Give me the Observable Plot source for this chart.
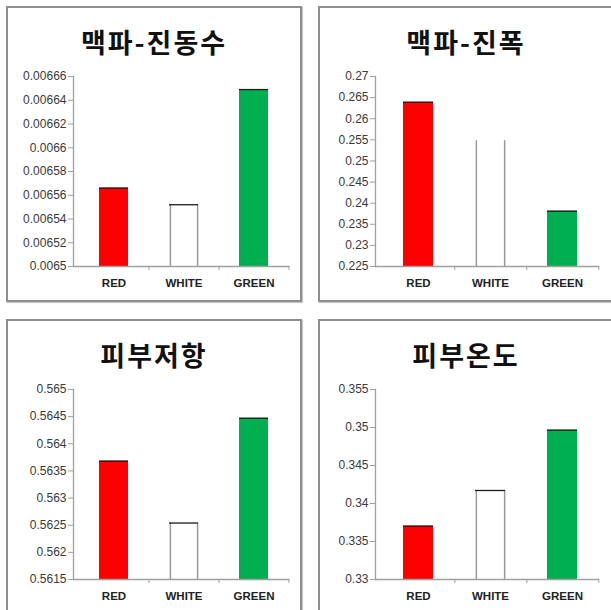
<!DOCTYPE html>
<html>
<head>
<meta charset="utf-8">
<script src="https://cdn.jsdelivr.net/npm/d3@7"></script>
<script src="https://cdn.jsdelivr.net/npm/@observablehq/plot@0.6"></script>
<style>
  html, body { margin: 0; padding: 0; background: #fff; }
  #page { position: relative; width: 611px; height: 610px; overflow: hidden; background: #fff; }
  .panel { position: absolute; width: 296px; height: 296px; box-sizing: border-box;
           border: 2px solid #8f8f8f; box-shadow: 1px 1px 1px #c8c8c8; background: #fff; }
  .title { position: absolute; left: 0; width: 292px; top: 19px; line-height: 30px; text-align: center;
           font-family: "Noto Sans CJK KR", sans-serif; font-weight: 700; font-size: 27px; color: #111; letter-spacing: 2px; }
</style>
</head>
<body>
<div id="page"></div>
<script>
// ---- data ----
const categories = ["RED", "WHITE", "GREEN"];
const barColors = ["#ff0000", "#ffffff", "#00b050"];
const titles = ["맥파-진동수", "맥파-진폭", "피부저항", "피부온도"];

const pulseFrequency = [0.006566, 0.006552, 0.006649];
const pulseAmplitude = [0.2639, 0.2548, 0.2381];
const skinResistance = [0.56368, 0.56254, 0.56447];
const skinTemperature = [0.33702, 0.34171, 0.34965];

const ticksFrequency = [0.0065, 0.00652, 0.00654, 0.00656, 0.00658, 0.0066, 0.00662, 0.00664, 0.00666];
const ticksAmplitude = [0.225, 0.23, 0.235, 0.24, 0.245, 0.25, 0.255, 0.26, 0.265, 0.27];
const ticksResistance = [0.5615, 0.562, 0.5625, 0.563, 0.5635, 0.564, 0.5645, 0.565];
const ticksTemperature = [0.33, 0.335, 0.34, 0.345, 0.35, 0.355];

// ---- layout ----
const panels = [
  {title: titles[0], values: pulseFrequency, ticks: ticksFrequency, left: 6, top: 6, ml: 65, mr: 12, whiteTop: true},
  {title: titles[1], values: pulseAmplitude, ticks: ticksAmplitude, left: 318, top: 6, ml: 55, mr: 14, whiteTop: false},
  {title: titles[2], values: skinResistance, ticks: ticksResistance, left: 6, top: 319, ml: 65, mr: 12, whiteTop: true},
  {title: titles[3], values: skinTemperature, ticks: ticksTemperature, left: 318, top: 319, ml: 55, mr: 14, whiteTop: true}
];

const W = 292, H = 234, MT = 14, MB = 30;
const PI = 0.59, PO = 0.33, ALIGN = 0.56;
const fmt = d => String(+d.toFixed(6));
const page = document.getElementById("page");

for (const p of panels) {
  const rows = categories.map((c, i) => ({cat: c, value: p.values[i], color: barColors[i]}));
  const base = p.ticks[0];
  const band = d3.scaleBand().domain(categories).range([p.ml, W - p.mr])
    .paddingInner(PI).paddingOuter(PO).align(ALIGN);
  const bw = band.bandwidth(), step = band.step();
  const white = rows.filter(d => d.cat === "WHITE");
  const topRows = rows.filter(d => d.cat !== "WHITE" || p.whiteTop);

  const chart = Plot.plot({
    width: W, height: H,
    marginLeft: p.ml, marginRight: p.mr, marginTop: MT, marginBottom: MB,
    style: {background: "transparent", overflow: "visible", fontFamily: "'Liberation Sans', Arial, sans-serif"},
    x: {domain: categories, paddingInner: PI, paddingOuter: PO, align: ALIGN, axis: null, label: null},
    y: {domain: [p.ticks[0], p.ticks[p.ticks.length - 1]], axis: null, label: null},
    color: {type: "identity"},
    marks: [
      Plot.barY(rows, {x: "cat", y1: base, y2: "value", fill: "color"}),
      Plot.ruleX(white, {x: "cat", y1: base, y2: "value", dx: -bw / 2 + 0.75, stroke: "#9a9a9a", strokeWidth: 1.5}),
      Plot.ruleX(white, {x: "cat", y1: base, y2: "value", dx: bw / 2 - 0.75, stroke: "#9a9a9a", strokeWidth: 1.5}),
      Plot.tickY(topRows, {x: "cat", y: "value", stroke: "#1a1a1a", strokeWidth: 1.3}),
      Plot.frame({anchor: "left", stroke: "#a0a0a0", strokeWidth: 1.3}),
      Plot.frame({anchor: "bottom", stroke: "#a0a0a0", strokeWidth: 1.3}),
      Plot.axisY({ticks: p.ticks, tickSize: 5, tickFormat: () => "", color: "#a0a0a0", label: null}),
      Plot.axisY({ticks: p.ticks, tickSize: 0, tickPadding: 7, tickFormat: fmt, color: "#3a3a3a",
                  fontSize: 12, letterSpacing: 1, label: null}),
      Plot.axisX({tickSize: 4, tickFormat: () => "", dx: step / 2, color: "#a0a0a0", label: null}),
      Plot.axisX({tickSize: 0, tickPadding: 12, color: "#222", fontSize: 11.5, fontWeight: "bold",
                  letterSpacing: 0.8, label: null})
    ]
  });

  const div = document.createElement("div");
  div.className = "panel";
  div.style.left = p.left + "px";
  div.style.top = p.top + "px";
  const t = document.createElement("div");
  t.className = "title";
  t.textContent = p.title;
  div.appendChild(t);
  chart.style.position = "absolute";
  chart.style.left = "0px";
  chart.style.top = "54px";
  div.appendChild(chart);
  page.appendChild(div);
}
</script>
</body>
</html>
